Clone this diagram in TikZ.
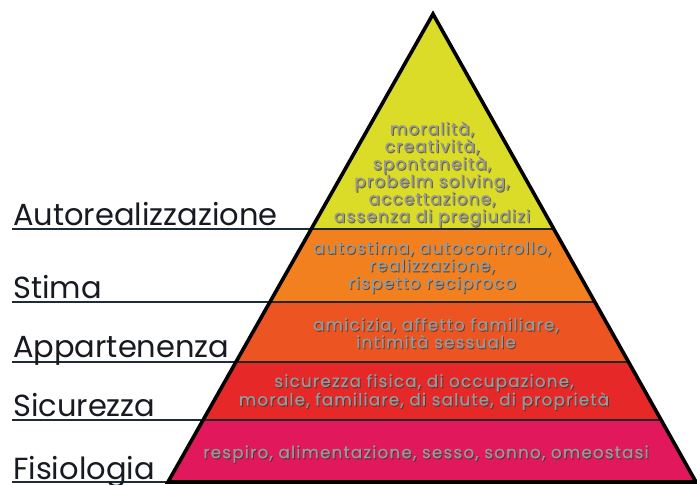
\documentclass[tikz,border=0pt]{standalone}
\usepackage{fontspec}
\setmainfont{Poppins}
\newfontfamily\tierfont[LetterSpace=7,FakeBold=0.4]{Poppins}
\usetikzlibrary{calc}
\definecolor{lvlA}{RGB}{218,220,40}
\definecolor{lvlB}{RGB}{242,128,30}
\definecolor{lvlC}{RGB}{236,84,34}
\definecolor{lvlD}{RGB}{230,40,40}
\definecolor{lvlE}{RGB}{226,24,92}
\definecolor{ink}{RGB}{24,26,34}
\definecolor{rule}{RGB}{30,44,56}
\tikzset{
  levelname/.style={anchor=base west, inner sep=0pt, text=ink,
    font=\fontsize{30.5}{32}\selectfont},
  guide/.style={draw=rule, line width=1.8pt},
  tierline/.style={draw=black!85, line width=1.6pt},
  outline/.style={draw=black, line width=3.6pt, line join=miter},
  tiertext/.style={align=center, inner sep=0pt, text=black!40,
    font=\tierfont\fontsize{16.8}{17.5}\selectfont},
  tiershade/.style={align=center, inner sep=0pt, text=black!80, text opacity=0.65,
    font=\tierfont\fontsize{16.8}{17.5}\selectfont},
}
% a label of a tier, printed with a soft drop shadow
\newcommand{\tierlabel}[3]{%
  \node[tiershade] at ($(#2)+(1.0,1.1)$) {#3};
  \node[tiertext] (#1) at (#2) {#3};}
\begin{document}
\begin{tikzpicture}[x=1pt,y=-1pt]
\useasboundingbox (0,0) rectangle (697,485);
\fill[white] (0,0) rectangle (697,485);

% corners of the pyramid
\coordinate (A) at (433,14);
\coordinate (BL) at (168,482);
\coordinate (BR) at (696,482);
% points where the tier boundaries meet the sides
\coordinate (L1) at ($(A)!0.4594!(BL)$);
\coordinate (R1) at ($(A)!0.4594!(BR)$);
\coordinate (L2) at ($(A)!0.6154!(BL)$);
\coordinate (R2) at ($(A)!0.6154!(BR)$);
\coordinate (L3) at ($(A)!0.7436!(BL)$);
\coordinate (R3) at ($(A)!0.7436!(BR)$);
\coordinate (L4) at ($(A)!0.8675!(BL)$);
\coordinate (R4) at ($(A)!0.8675!(BR)$);

% tiers
\fill[lvlA] (A) -- (R1) -- (L1) -- cycle;
\fill[lvlB] (L1) -- (R1) -- (R2) -- (L2) -- cycle;
\fill[lvlC] (L2) -- (R2) -- (R3) -- (L3) -- cycle;
\fill[lvlD] (L3) -- (R3) -- (R4) -- (L4) -- cycle;
\fill[lvlE] (L4) -- (R4) -- (BR) -- (BL) -- cycle;
\draw[tierline] (L1) -- (R1) (L2) -- (R2) (L3) -- (R3) (L4) -- (R4);

% guide lines running out to the level names
\coordinate (G1) at (12,229);
\coordinate (G2) at (12,302);
\coordinate (G3) at (12,362);
\coordinate (G4) at (12,420);
\coordinate (G5) at (12,482);
\draw[guide] (G1) -- (L1);
\draw[guide] (G2) -- (L2);
\draw[guide] (G3) -- (L3);
\draw[guide] (G4) -- (L4);
\draw[guide] (G5) -- (BL);

\draw[outline] (A) -- (BR) -- (BL) -- cycle;

% level names
\node[levelname] (n1) at (13,225) {Autorealizzazione};
\node[levelname] (n2) at (13,298) {Stima};
\node[levelname] (n3) at (13,357) {Appartenenza};
\node[levelname] (n4) at (13,416) {Sicurezza};
\node[levelname] (n5) at (13,479) {Fisiologia};

% contents of the tiers
\tierlabel{t1}{432,174}{moralità,\\creatività,\\spontaneità,\\probelm solving,\\accettazione,\\assenza di pregiudizi}
\tierlabel{t2}{432,267}{autostima, autocontrollo,\\realizzazione,\\rispetto reciproco}
\tierlabel{t3}{436,333}{amicizia, affetto familiare,\\intimità sessuale}
\tierlabel{t4}{424,392}{sicurezza fisica, di occupazione,\\morale, familiare, di salute, di proprietà}
\tierlabel{t5}{426,454}{respiro, alimentazione, sesso, sonno, omeostasi}
\end{tikzpicture}
\end{document}
